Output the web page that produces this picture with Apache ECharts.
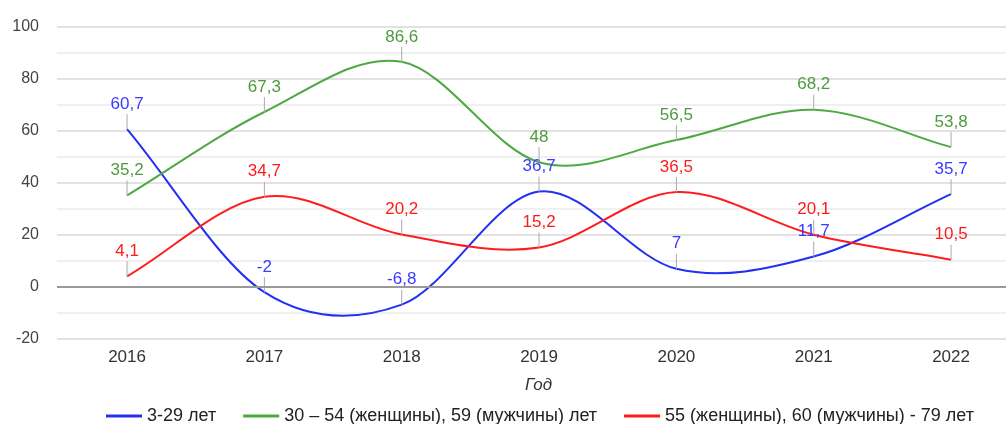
<!DOCTYPE html>
<html>
<head>
<meta charset="utf-8">
<script src="https://cdn.jsdelivr.net/npm/echarts@6/dist/echarts.min.js"></script>
<style>
  html, body { margin: 0; padding: 0; background: #fff; }
  #chart { width: 1006px; height: 424px; }
</style>
</head>
<body>
<div id="chart"></div>
<script>
// годы и значения
const years = [2016, 2017, 2018, 2019, 2020, 2021, 2022];
const young = [60.7, -2, -6.8, 36.7, 7, 11.7, 35.7];
const middle = [35.2, 67.3, 86.6, 48, 56.5, 68.2, 53.8];
const old = [4.1, 34.7, 20.2, 15.2, 36.5, 20.1, 10.5];
const names = [
  '3-29 лет',
  '30 – 54 (женщины), 59 (мужчины) лет',
  '55 (женщины), 60 (мужчины) - 79 лет'
];
const yTicks = [-20, 0, 20, 40, 60, 80, 100];

const font = '"Liberation Sans", Arial, sans-serif';
const lineColors = ['#2430f0', '#4ea843', '#ff1c1c'];
const labelColors = ['#3a3aff', '#4f9a3f', '#ff1a1a'];

function pairs(vals) {
  return years.map((y, i) => [y, vals[i]]);
}

// кривая как у google charts (catmull-rom)
function curveRenderer(color) {
  return function (params, api) {
    const i = params.dataIndexInside;
    const n = params.dataInsideLength;
    if (i >= n - 1) return null;
    const P = k => api.coord([api.value(0, k), api.value(1, k)]);
    const p0 = P(i), p1 = P(i + 1);
    const t0 = i > 0
      ? [(p1[0] - P(i - 1)[0]) / 2, (p1[1] - P(i - 1)[1]) / 2]
      : [p1[0] - p0[0], p1[1] - p0[1]];
    const t1 = i + 2 < n
      ? [(P(i + 2)[0] - p0[0]) / 2, (P(i + 2)[1] - p0[1]) / 2]
      : [p1[0] - p0[0], p1[1] - p0[1]];
    return {
      type: 'bezierCurve',
      shape: {
        x1: p0[0], y1: p0[1], x2: p1[0], y2: p1[1],
        cpx1: p0[0] + t0[0] / 3, cpy1: p0[1] + t0[1] / 3,
        cpx2: p1[0] - t1[0] / 3, cpy2: p1[1] - t1[1] / 3
      },
      style: { stroke: color, lineWidth: 2, fill: 'none' }
    };
  };
}

function labelRenderer(color) {
  return function (params, api) {
    const v = api.value(1);
    const p = api.coord([api.value(0), v]);
    return {
      type: 'group',
      children: [
        {
          type: 'line',
          shape: { x1: p[0], y1: p[1], x2: p[0], y2: p[1] - 15 },
          style: { stroke: '#aaaaaa', lineWidth: 1 }
        },
        {
          type: 'text',
          style: {
            text: String(v).replace('.', ','),
            x: p[0], y: p[1] - 25,
            align: 'center', verticalAlign: 'middle',
            fill: color,
            font: '17px ' + font
          }
        }
      ]
    };
  };
}

const chart = echarts.init(document.getElementById('chart'));

const allVals = [young, middle, old];
const series = [];
allVals.forEach((vals, k) => {
  series.push({
    name: names[k],
    type: 'custom',
    data: pairs(vals),
    encode: { x: 0, y: 1 },
    itemStyle: { color: lineColors[k] },
    renderItem: curveRenderer(lineColors[k]),
    z: 3
  });
});
allVals.forEach((vals, k) => {
  series.push({
    type: 'custom',
    data: pairs(vals),
    encode: { x: 0, y: 1 },
    renderItem: labelRenderer(labelColors[k]),
    z: 4
  });
});
// нулевая линия
series[0].markLine = {
  silent: true,
  symbol: 'none',
  label: { show: false },
  lineStyle: { color: '#999999', width: 2, type: 'solid' },
  data: [{ yAxis: 0 }]
};

chart.setOption({
  animation: false,
  textStyle: { fontFamily: font },
  grid: { left: 57, right: 0, top: 27, bottom: 85 },
  xAxis: {
    type: 'value',
    min: 2015.49,
    max: 2022.4,
    axisLine: { show: false, onZero: false },
    axisTick: { show: false },
    splitLine: { show: false },
    axisLabel: {
      customValues: years,
      color: '#333',
      fontSize: 17,
      margin: 10,
      formatter: v => String(v)
    },
    name: 'Год',
    nameLocation: 'middle',
    nameGap: 38,
    nameTextStyle: {
      fontStyle: 'italic',
      fontSize: 17,
      color: '#333',
      padding: [0, 0, 0, 14]
    }
  },
  yAxis: {
    type: 'value',
    min: yTicks[0],
    max: yTicks[yTicks.length - 1],
    interval: 20,
    axisLine: { show: false },
    axisTick: { show: false },
    axisLabel: { color: '#444', fontSize: 16, margin: 18 },
    splitLine: { lineStyle: { color: '#e2e2e2', width: 2 } },
    minorTick: { show: false, splitNumber: 2 },
    minorSplitLine: { show: true, lineStyle: { color: '#f0f0f0', width: 2 } }
  },
  legend: {
    left: 106,
    top: 407,
    padding: 0,
    icon: 'rect',
    itemWidth: 36,
    itemHeight: 3,
    itemGap: 27,
    textStyle: { color: '#222', fontSize: 18 },
    data: names
  },
  series: series
});
</script>
</body>
</html>
